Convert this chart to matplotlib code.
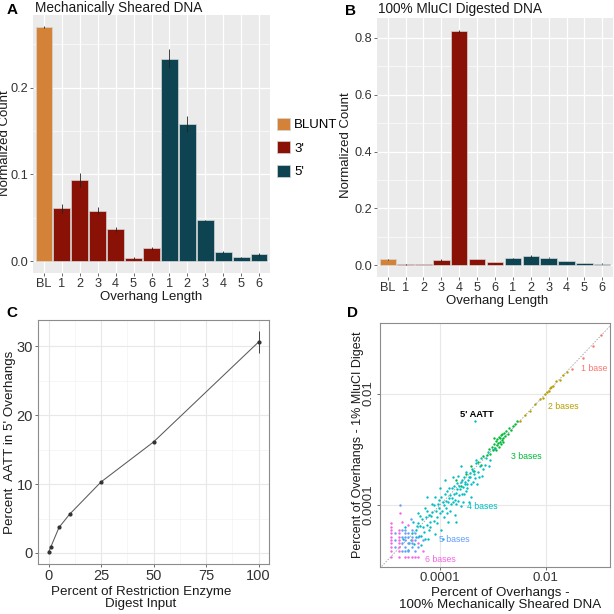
import numpy as np
import matplotlib
matplotlib.use("Agg")
import matplotlib.pyplot as plt
from matplotlib.patches import Patch

plt.rcParams['font.family'] = ['Liberation Sans', 'DejaVu Sans']

# ---------------- data ----------------
tick_labels = ["BL", "1", "2", "3", "4", "5", "6", "1", "2", "3", "4", "5", "6"]
groups = ["BLUNT"] + ["3'"] * 6 + ["5'"] * 6
group_names = ["BLUNT", "3'", "5'"]
group_colors = {"BLUNT": "#D48237", "3'": "#8A1106", "5'": "#0E4452"}

sheared_vals = [0.270, 0.061, 0.094, 0.058, 0.037, 0.004, 0.015, 0.233, 0.158, 0.047, 0.011, 0.0045, 0.008]
sheared_err = [0.001, 0.005, 0.008, 0.004, 0.003, 0.001, 0.0015, 0.011, 0.009, 0.001, 0.001, 0.0005, 0.0015]
digest_vals = [0.021, 0.003, 0.005, 0.019, 0.823, 0.022, 0.012, 0.025, 0.032, 0.027, 0.015, 0.008, 0.006]
digest_err = [0.002, 0.001, 0.001, 0.002, 0.005, 0.001, 0.001, 0.002, 0.004, 0.001, 0.001, 0.001, 0.001]

pct_input = [0, 1, 5, 10, 25, 50, 100]
pct_aatt = [0.1, 0.8, 3.7, 5.6, 10.3, 16.1, 30.6]
pct_err = [0.05, 0.1, 0.1, 0.1, 0.1, 0.1, 1.55]

# panel D: log10 of (sheared %, 1% digest %) per overhang
one_base = [(-0.96, -0.95), (-1.11, -1.15), (-1.30, -1.37), (-1.51, -1.56)]
two_bases = [(-2.49, -2.50), (-2.40, -2.38), (-2.30, -2.32), (-2.20, -2.18), (-2.12, -2.10),
             (-2.06, -2.08), (-2.02, -2.00), (-1.98, -1.97), (-1.95, -1.96), (-1.92, -1.90),
             (-1.90, -1.88), (-1.86, -1.86), (-1.80, -1.78), (-1.74, -1.75), (-1.68, -1.66),
             (-1.60, -1.62)]
three_bases = [(-3.50, -3.45), (-3.42, -3.30), (-3.35, -3.38), (-3.28, -3.22), (-3.22, -3.28),
               (-3.18, -3.12), (-3.12, -3.10), (-3.08, -3.00), (-3.05, -3.08), (-3.02, -2.95),
               (-3.00, -3.02), (-2.98, -2.90), (-2.96, -2.98), (-2.95, -2.85), (-2.93, -2.92),
               (-2.92, -2.82), (-2.90, -2.88), (-2.89, -2.78), (-2.87, -2.86), (-2.86, -2.80),
               (-2.85, -2.90), (-2.84, -2.75), (-2.83, -2.83), (-2.82, -2.72), (-2.80, -2.80),
               (-2.79, -2.70), (-2.77, -2.76), (-2.75, -2.68), (-2.72, -2.72), (-2.70, -2.62),
               (-2.65, -2.65), (-2.62, -2.58), (-2.58, -2.55), (-2.55, -2.50), (-3.60, -3.65),
               (-3.70, -3.55), (-2.94, -3.02), (-2.88, -2.95), (-2.81, -2.86), (-2.97, -2.80)]
four_bases = [(-4.55, -4.62), (-4.50, -4.30), (-4.48, -4.70), (-4.45, -4.45), (-4.42, -4.15),
              (-4.40, -4.55), (-4.38, -4.38), (-4.35, -4.72), (-4.33, -4.25), (-4.30, -4.48),
              (-4.28, -4.05), (-4.25, -4.35), (-4.22, -4.60), (-4.20, -4.18), (-4.18, -4.40),
              (-4.15, -3.98), (-4.12, -4.28), (-4.10, -4.52), (-4.08, -4.10), (-4.05, -4.32),
              (-4.02, -3.90), (-4.00, -4.15), (-3.98, -4.45), (-3.95, -3.95), (-3.93, -4.22),
              (-3.90, -3.80), (-3.88, -4.05), (-3.85, -4.30), (-3.83, -3.88), (-3.80, -4.10),
              (-3.78, -3.70), (-3.75, -3.95), (-3.72, -4.18), (-3.70, -3.78), (-3.68, -3.60),
              (-3.65, -3.92), (-3.62, -3.72), (-3.60, -4.02), (-3.58, -3.55), (-3.55, -3.80),
              (-3.52, -3.62), (-3.50, -3.40), (-3.48, -3.70), (-3.45, -3.50), (-3.42, -3.85),
              (-3.40, -3.35), (-3.38, -3.58), (-3.35, -3.45), (-3.32, -3.25), (-3.30, -3.62),
              (-3.28, -3.40), (-3.25, -3.30), (-3.22, -3.15), (-3.20, -3.48), (-3.15, -3.28),
              (-3.10, -3.05), (-3.05, -3.20), (-2.98, -3.00), (-4.60, -4.80), (-4.70, -4.60),
              (-4.65, -4.40), (-3.95, -4.60), (-3.70, -4.30), (-3.60, -3.30), (-3.45, -3.95),
              (-3.90, -3.55), (-4.25, -3.85), (-4.02, -4.05), (-3.97, -3.85), (-3.92, -4.00),
              (-3.87, -3.75), (-3.84, -3.95), (-3.81, -3.82), (-3.77, -3.88), (-3.74, -3.65),
              (-3.71, -3.90), (-3.67, -3.72), (-3.64, -3.82), (-3.61, -3.58), (-3.57, -3.68),
              (-3.54, -3.50), (-3.51, -3.75), (-3.47, -3.55), (-3.44, -3.42), (-3.41, -3.62),
              (-3.37, -3.38), (-3.34, -3.52), (-4.12, -4.00), (-4.16, -4.20), (-4.21, -4.45),
              (-4.27, -4.22), (-4.32, -4.40), (-4.36, -4.55), (-4.41, -4.32), (-4.46, -4.58),
              (-4.06, -4.22), (-3.99, -3.70), (-3.76, -3.50), (-3.56, -3.95), (-3.66, -3.48),
              (-3.86, -4.15), (-4.09, -3.85), (-3.31, -3.20), (-3.27, -3.50), (-3.18, -3.35),
              (-3.13, -3.15), (-3.08, -3.30), (-3.34, -2.49), (-4.03, -3.98), (-3.96, -4.10),
              (-3.89, -3.92), (-3.82, -3.70), (-3.79, -3.98), (-3.73, -3.80), (-3.69, -3.98),
              (-3.63, -3.65), (-3.59, -3.80), (-3.53, -3.58), (-3.49, -3.62), (-3.43, -3.50),
              (-4.14, -4.12), (-4.19, -4.30), (-4.24, -4.10), (-4.29, -4.60), (-4.37, -4.20),
              (-4.44, -4.38), (-4.52, -4.50), (-4.58, -4.68)]
five_bases = [(-4.85, -4.50), (-4.85, -4.63), (-4.85, -4.75), (-4.72, -4.45), (-4.72, -4.57),
              (-4.72, -4.68), (-4.72, -4.82), (-4.66, -4.45), (-4.66, -4.50), (-4.66, -4.57),
              (-4.66, -4.63), (-4.66, -4.75), (-4.66, -4.82), (-4.60, -4.50), (-4.60, -4.57),
              (-4.60, -4.68), (-4.60, -4.82), (-4.53, -4.45), (-4.53, -4.57), (-4.53, -4.68),
              (-4.53, -4.75), (-4.47, -4.50), (-4.47, -4.63), (-4.47, -4.82), (-4.42, -4.57),
              (-4.42, -4.75), (-4.32, -4.63), (-4.75, -4.00), (-4.55, -4.25)]
six_bases = [(-4.92, -4.32), (-4.92, -4.40), (-4.92, -4.45), (-4.92, -4.50), (-4.92, -4.57),
             (-4.92, -4.63), (-4.92, -4.68), (-4.92, -4.75), (-4.92, -4.82), (-4.77, -4.45),
             (-4.77, -4.50), (-4.77, -4.57), (-4.77, -4.63), (-4.77, -4.68), (-4.77, -4.75),
             (-4.77, -4.82), (-4.92, -4.93), (-4.77, -4.93), (-4.66, -4.93), (-4.60, -4.93),
             (-4.53, -4.93), (-4.47, -4.93), (-4.42, -4.93), (-4.72, -4.30), (-4.60, -4.35),
             (-4.75, -4.14), (-4.53, -4.63), (-4.42, -4.68), (-4.32, -4.82)]
overhang_sets = [one_base, two_bases, three_bases, four_bases, five_bases, six_bases]
overhang_names = ["1 base", "2 bases", "3 bases", "4 bases", "5 bases", "6 bases"]
overhang_colors = ["#F8766D", "#B79F00", "#00BA38", "#00BFC4", "#619CFF", "#F564E3"]
# label positions (log10 x, log10 y)
label_pos = [(-1.09, -1.55), (-1.67, -2.23), (-2.37, -3.12), (-3.20, -4.02), (-3.72, -4.61), (-3.99, -4.97)]
aatt_label_pos = (-3.31, -2.37)

# ---------------- figure ----------------
W = H = 614
fig = plt.figure(figsize=(6.14, 6.14), dpi=100)


def axes_px(l, t, r, b):
    return fig.add_axes([l / W, 1 - b / H, (r - l) / W, (b - t) / H])


def text_px(x, y, s, **kw):
    fig.text(x / W, 1 - y / H, s, **kw)


TXT = '#1a1a1a'
TICK = '#333333'


def bar_panel(ax, vals, errs, yticks, ylabels, yminor, ylim):
    ax.set_facecolor('#EBEBEB')
    x = np.arange(1, len(vals) + 1)
    colors = [group_colors[g] for g in groups]
    for yv in yminor:
        ax.axhline(yv, color='white', lw=0.45, zorder=0.5)
    for yv in yticks:
        ax.axhline(yv, color='white', lw=0.9, zorder=0.5)
    for xv in x:
        ax.axvline(xv, color='white', lw=0.9, zorder=0.5)
    ax.bar(x, vals, width=0.92, color=colors, edgecolor='#D5D5D5', linewidth=0.5, zorder=2)
    ax.errorbar(x, vals, yerr=errs, fmt='none', ecolor='#222222', elinewidth=0.6, capsize=0, zorder=3)
    ax.set_xlim(0.4, len(vals) + 0.6)
    ax.set_ylim(*ylim)
    ax.set_xticks(x)
    ax.set_xticklabels(tick_labels)
    ax.set_yticks(yticks)
    ax.set_yticklabels(ylabels)
    for s in ax.spines.values():
        s.set_visible(False)
    ax.tick_params(length=2.5, width=0.5, color=TICK, labelsize=9.2, labelcolor=TICK, pad=1.2)


# Panel A
axA = axes_px(33, 15, 270, 273)
bar_panel(axA, sheared_vals, sheared_err, [0.0, 0.1, 0.2], ["0.0", "0.1", "0.2"],
          [0.05, 0.15, 0.25], (-0.0135, 0.2835))
text_px(35, 8, "Mechanically Sheared DNA", fontsize=9.8, color=TXT, ha='left', va='center')
text_px(5, 143, "Normalized Count", fontsize=9.5, color=TXT, rotation=90, ha='center', va='center')
text_px(151, 297, "Overhang Length", fontsize=9.5, color=TXT, ha='center', va='center')
text_px(12, 10, "A", fontsize=11, fontweight='bold', color='black', ha='center', va='center')

handles = [Patch(facecolor=group_colors[g], edgecolor='#D5D5D5', linewidth=0.5, label=g) for g in group_names]
fig.legend(handles=handles, loc='center left', bbox_to_anchor=(277 / W, 1 - 148 / H), frameon=False,
           fontsize=9.5, handlelength=1.0, handleheight=1.05, labelspacing=0.75, handletextpad=0.3,
           borderaxespad=0, borderpad=0)

# Panel B
axB = axes_px(377, 18, 613, 277)
bar_panel(axB, digest_vals, digest_err, [0.0, 0.2, 0.4, 0.6, 0.8], ["0.0", "0.2", "0.4", "0.6", "0.8"],
          [0.1, 0.3, 0.5, 0.7], (-0.041, 0.87))
text_px(378, 9, "100% MluCI Digested DNA", fontsize=9.8, color=TXT, ha='left', va='center')
text_px(346, 145, "Normalized Count", fontsize=9.5, color=TXT, rotation=90, ha='center', va='center')
text_px(497, 301, "Overhang Length", fontsize=9.5, color=TXT, ha='center', va='center')
text_px(350, 11, "B", fontsize=11, fontweight='bold', color='black', ha='center', va='center')

# Panel C
axC = axes_px(38, 320, 269, 564)
axC.set_facecolor('white')
for v in [5, 15, 25]:
    axC.axhline(v, color='#F2F2F2', lw=0.45, zorder=0)
for v in [12.5, 37.5, 62.5, 87.5]:
    axC.axvline(v, color='#F2F2F2', lw=0.45, zorder=0)
for v in [0, 10, 20, 30]:
    axC.axhline(v, color='#E8E8E8', lw=0.8, zorder=0)
for v in [0, 25, 50, 75, 100]:
    axC.axvline(v, color='#E8E8E8', lw=0.8, zorder=0)
axC.plot(pct_input, pct_aatt, color='#5a5a5a', lw=0.75, zorder=2)
axC.errorbar(pct_input, pct_aatt, yerr=pct_err, fmt='none', ecolor='#444444', elinewidth=0.7, capsize=0, zorder=3)
axC.plot(pct_input, pct_aatt, 'o', color='#333333', ms=2.0, zorder=4)
axC.set_xlim(-5, 105)
axC.set_ylim(-1.6, 33.8)
axC.set_xticks([0, 25, 50, 75, 100])
axC.set_yticks([0, 10, 20, 30])
for s in axC.spines.values():
    s.set_color('#8C8C8C')
    s.set_linewidth(0.8)
axC.tick_params(length=2.5, width=0.5, color=TICK, labelsize=10.5, labelcolor=TICK, pad=1.2)
text_px(10, 442, "Percent  AATT in 5' Overhangs", fontsize=9.6, color=TXT, rotation=90, ha='center', va='center')
text_px(141, 598, "Percent of Restriction Enzyme\nDigest Input", fontsize=9.6, color=TXT, ha='center',
        va='center', linespacing=1.0)
text_px(12, 313, "C", fontsize=11, fontweight='bold', color='black', ha='center', va='center')

# Panel D
axD = axes_px(380, 323, 610, 567)
axD.set_facecolor('white')
axD.set_xscale('log')
axD.set_yscale('log')
axD.set_xlim(10 ** -5.13, 10 ** -0.79)
axD.set_ylim(10 ** -5.11, 10 ** -0.735)
for v in [1e-4, 1e-2]:
    axD.axhline(v, color='#E8E8E8', lw=0.8, zorder=0)
    axD.axvline(v, color='#E8E8E8', lw=0.8, zorder=0)
axD.plot([1e-7, 1.0], [1e-7, 1.0], ls=(0, (1.5, 1.5)), color='#AAAAAA', lw=0.7, zorder=1)
for pts, col in zip(overhang_sets, overhang_colors):
    arr = np.array(pts)
    axD.scatter(10 ** arr[:, 0], 10 ** arr[:, 1], s=3.0, color=col, linewidths=0, zorder=2)
for name, col, (lx, ly) in zip(overhang_names, overhang_colors, label_pos):
    axD.text(10 ** lx, 10 ** ly, name, color=col, fontsize=6.3, ha='center', va='center')
axD.text(10 ** aatt_label_pos[0], 10 ** aatt_label_pos[1], "5' AATT", color='black', fontsize=6.7,
         fontweight='bold', ha='center', va='center')
axD.set_xticks([1e-4, 1e-2])
axD.set_xticklabels(["0.0001", "0.01"])
axD.set_yticks([1e-4, 1e-2])
axD.set_yticklabels(["0.0001", "0.01"], rotation=90, va='center')
axD.minorticks_off()
for s in axD.spines.values():
    s.set_color('#8C8C8C')
    s.set_linewidth(0.8)
axD.tick_params(length=2.5, width=0.5, color=TICK, labelsize=9.5, labelcolor=TICK, pad=1.2)
text_px(358, 445, "Percent of Overhangs - 1% MluCI Digest", fontsize=9.0, color=TXT, rotation=90,
        ha='center', va='center')
text_px(500, 599, "Percent of Overhangs -\n100% Mechanically Sheared DNA", fontsize=9.6, color=TXT,
        ha='center', va='center', linespacing=1.0)
text_px(352, 313, "D", fontsize=11, fontweight='bold', color='black', ha='center', va='center')

fig.savefig("out.png", dpi=100)
